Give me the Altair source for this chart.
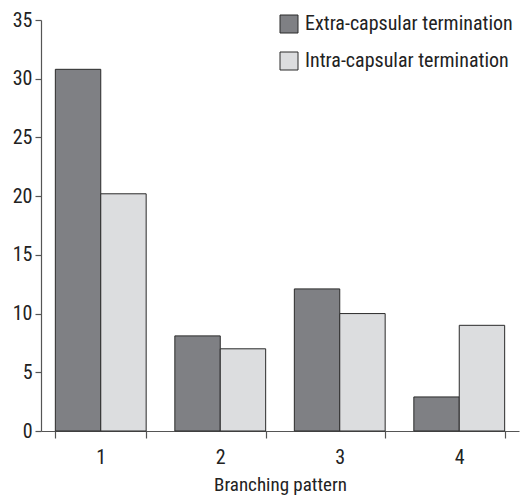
import altair as alt
import pandas as pd

patterns = ["1", "2", "3", "4"]
series = ["Extra-capsular termination", "Intra-capsular termination"]
extra = [30.8, 8.1, 12.1, 2.9]
intra = [20.2, 7.0, 10.0, 9.0]
colors = ["#7f8084", "#dcdddf"]

rows = []
for i, p in enumerate(patterns):
    rows.append({"pattern": p, "series": series[0], "value": extra[i]})
    rows.append({"pattern": p, "series": series[1], "value": intra[i]})
df = pd.DataFrame(rows)

FONT = "Liberation Sans Narrow, Roboto Condensed, Liberation Sans, Arial"

chart = alt.Chart(df).mark_bar(stroke="#2a2a2a", strokeWidth=1).encode(
    x=alt.X("pattern:N", title="Branching pattern",
            scale=alt.Scale(paddingInner=0.24, paddingOuter=0.12),
            axis=alt.Axis(labelAngle=0, tickBand="extent", tickSize=7,
                          labelPadding=9, titlePadding=8, titleFontSize=19)),
    xOffset=alt.XOffset("series:N", sort=series, scale=alt.Scale(paddingInner=0, paddingOuter=0)),
    y=alt.Y("value:Q", title=None,
            scale=alt.Scale(domain=[0, 35], nice=False),
            axis=alt.Axis(values=[0, 5, 10, 15, 20, 25, 30, 35], tickSize=6,
                          grid=False, labelPadding=3)),
    fill=alt.Fill("series:N", sort=series,
                  scale=alt.Scale(domain=series, range=colors),
                  legend=alt.Legend(title=None, orient="none", legendX=238, legendY=-6,
                                    symbolType="square", symbolSize=324,
                                    symbolStrokeColor="#2a2a2a", symbolStrokeWidth=1,
                                    symbolOpacity=1, rowPadding=15, padding=0,
                                    labelFontSize=20, labelFont=FONT, labelColor="#222",
                                    labelOffset=6, labelLimit=300)),
).properties(
    width=478, height=411,
    autosize=alt.AutoSizeParams(type="none"),
    padding={"left": 33, "top": 12, "right": 1, "bottom": 68},
).configure_view(stroke=None).configure_axis(
    domainColor="#555", tickColor="#555", labelColor="#222", titleColor="#222",
    labelFont=FONT, titleFont=FONT, labelFontSize=20, titleFontSize=19,
    titleFontWeight="normal", domainWidth=1.2, tickWidth=1.2,
)

chart.save("out.html", embed_options={"renderer": "svg", "actions": False})
